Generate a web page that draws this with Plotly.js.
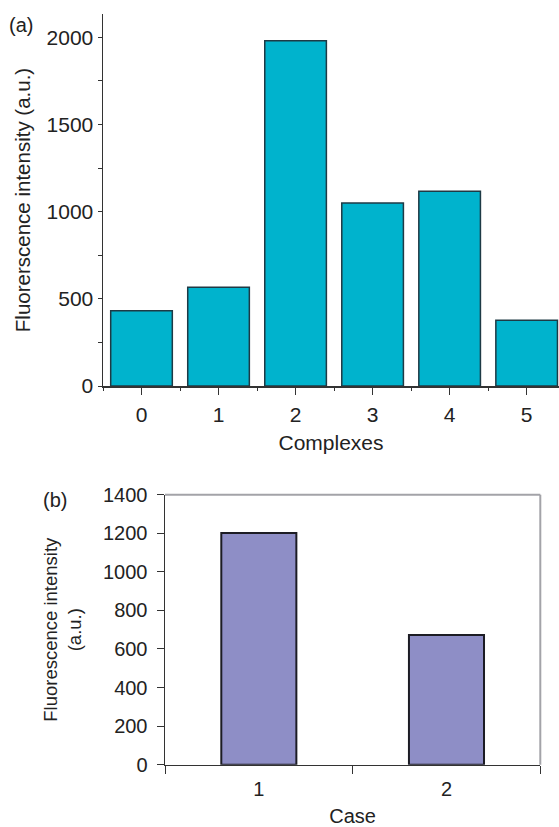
<!DOCTYPE html>
<html>
<head>
<meta charset="utf-8">
<script src="https://cdn.plot.ly/plotly-3.0.1.min.js"></script>
<style>html,body{margin:0;padding:0;background:#fff;}#chart{width:559px;height:827px;}</style>
</head>
<body>
<div id="chart"></div>
<script>
var complexes = [0, 1, 2, 3, 4, 5];
var intensityA = [432, 566, 1980, 1050, 1117, 377];
var cases = ["1", "2"];
var intensityB = [1202, 672];
var tickLabelsA = ["0", "1", "2", "3", "4", "5"];

var FONT = "Liberation Sans, Arial, sans-serif";
var TXT = "#222";

var data = [
  {type: "bar", x: complexes, y: intensityA, xaxis: "x", yaxis: "y", width: 0.8,
   marker: {color: "#00b3cd", line: {color: "#1e3a45", width: 1.5}}, hoverinfo: "x+y"},
  {type: "bar", x: cases, y: intensityB, xaxis: "x2", yaxis: "y2", width: 0.4,
   marker: {color: "#8e8ec6", line: {color: "#1c1c24", width: 2}}, hoverinfo: "x+y"}
];

var layout = {
  width: 559, height: 827,
  margin: {l: 0, r: 0, t: 0, b: 0},
  paper_bgcolor: "#fff", plot_bgcolor: "rgba(0,0,0,0)",
  showlegend: false,
  font: {family: FONT, color: TXT, size: 20},
  xaxis: {
    domain: [103/559, 1], anchor: "y", range: [-0.5, 5.42],
    tickmode: "array", tickvals: complexes, ticktext: tickLabelsA,
    ticks: "outside", ticklen: 7, tickcolor: "#333", tickwidth: 1,
    minor: {tick0: 0.5, dtick: 1, ticks: "outside", ticklen: 3, tickcolor: "#333"},
    showline: true, linecolor: "#333", linewidth: 1.5, showgrid: false, zeroline: false,
    tickfont: {size: 21}, ticklabelstandoff: 2, fixedrange: true,
    title: {text: "Complexes", font: {size: 21}, standoff: 10}
  },
  yaxis: {
    domain: [1 - 386/827, 1 - 14/827], anchor: "x", range: [0, 2134],
    tickmode: "linear", tick0: 0, dtick: 500,
    ticks: "outside", ticklen: 4, tickcolor: "#333",
    minor: {dtick: 250, ticks: "outside", ticklen: 4, tickcolor: "#333"},
    showline: true, linecolor: "#333", linewidth: 1.5, showgrid: false, zeroline: false,
    tickfont: {size: 21}, fixedrange: true,
    title: {text: "Fluorerscence intensity (a.u.)", font: {size: 20.5}, standoff: 10}
  },
  xaxis2: {
    domain: [165/559, 540.3/559], anchor: "y2", type: "category",
    tickson: "boundaries", ticks: "outside", ticklen: 8, tickcolor: "#333",
    showline: true, linecolor: "#333", linewidth: 1.5, showgrid: false, zeroline: false,
    tickfont: {size: 20}, ticklabelstandoff: 6, fixedrange: true,
    title: {text: "Case", font: {size: 20}, standoff: 14}
  },
  yaxis2: {
    domain: [1 - 764.7/827, 1 - 494.7/827], anchor: "x2", range: [0, 1400],
    tickmode: "linear", tick0: 0, dtick: 200,
    ticks: "outside", ticklen: 7, tickcolor: "#333",
    showline: true, linecolor: "#333", linewidth: 1.5, showgrid: false, zeroline: false,
    tickfont: {size: 20}, ticklabelstandoff: 5, fixedrange: true,
    title: {text: "Fluorescence intensity<br>(a.u.)", font: {size: 18.5}, standoff: 16}
  },
  shapes: [
    {type: "line", xref: "x2 domain", yref: "y2 domain", x0: 0, x1: 1, y0: 1, y1: 1,
     line: {color: "#a3a3a8", width: 2}},
    {type: "line", xref: "x2 domain", yref: "y2 domain", x0: 1, x1: 1, y0: 0, y1: 1,
     line: {color: "#a3a3a8", width: 2}}
  ],
  annotations: [
    {text: "(a)", xref: "paper", yref: "paper", x: 21/559, y: 1 - 25/827,
     xanchor: "center", yanchor: "middle", showarrow: false, font: {size: 20}},
    {text: "(b)", xref: "paper", yref: "paper", x: 55/559, y: 1 - 500/827,
     xanchor: "center", yanchor: "middle", showarrow: false, font: {size: 20}}
  ]
};

Plotly.newPlot("chart", data, layout, {displayModeBar: false, staticPlot: true});
</script>
</body>
</html>
